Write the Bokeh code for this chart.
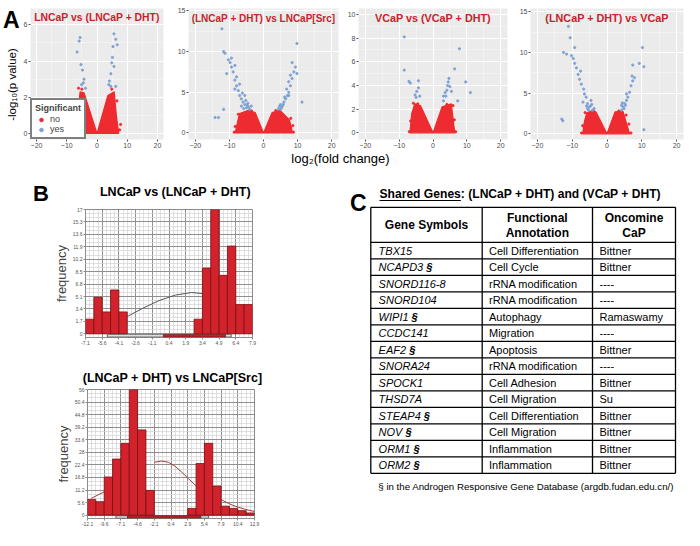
import math
from bokeh.plotting import figure
from bokeh.layouts import column, row
from bokeh.models import Range1d, FixedTicker, Label, Legend, LegendItem, CustomJSTickFormatter
from bokeh.core.properties import value
from bokeh.embed import file_html
from bokeh.resources import INLINE

FONT = "Liberation Sans"
RED_PT = "#ee2b30"
BLUE_PT = "#7ea2d4"
TITLE_RED = "#c8232b"
BAR_FILL = "#d2232c"
BAR_LINE = "#7a1014"

TOP_H = 150
STRIP_H = 32
BOT_H = 348

# ---------------- Panel A : volcano plots ----------------
v_xticks = [-20, -10, 0, 10, 20]

v1_title = "LNCaP vs (LNCaP + DHT)"
v1_yticks = [0, 2, 4, 6]
v1_env_x = [-6.6, -6.2, -5.6, -4.3, 0.0, 3.6, 5.7, 6.4, 7.2]
v1_env_y = [0.0, 1.3, 2.3, 2.25, 0.0, 2.1, 2.3, 1.0, 0.0]
v1_no_x = [-7.0, -6.9, -6.1, 7.5, 7.8, 6.6, -5.0, 4.9]
v1_no_y = [0.1, 0.7, 2.5, 0.2, 0.5, 1.8, 2.45, 2.45]
v1_yes_x = [-5.6, -5.9, -6.6, -5.3, -4.8, -4.3, -4.5, -5.1, -3.8,
            5.6, 6.2, 6.7, 5.3, 5.1, 4.9, 5.6, 4.6, 4.1, 3.9, 4.6, 6.2]
v1_yes_y = [5.3, 5.1, 4.5, 3.8, 3.5, 3.0, 2.8, 2.7, 2.5,
            5.5, 5.2, 4.9, 4.8, 4.2, 3.9, 3.7, 3.3, 2.9, 2.7, 2.6, 2.6]

v2_title = "(LNCaP + DHT) vs LNCaP[Src]"
v2_yticks = [0, 5, 10, 15]
v2_env_x = [-8.3, -7.6, -7.0, -4.5, -2.4, 0.0, 2.5, 4.8, 7.6, 8.1, 8.5]
v2_env_y = [0.0, 1.4, 2.4, 2.8, 2.5, 0.0, 2.5, 2.8, 1.6, 0.8, 0.0]
v2_no_x = [-8.6, -8.3, -7.4, 8.8, 8.6, 8.0, -3.5, 3.6]
v2_no_y = [0.1, 0.8, 2.3, 0.1, 0.9, 1.8, 2.7, 2.75]
v2_yes_x = [-4.1, -5.0, -5.5, -6.0, -4.6, -6.5, -7.0, -5.5, -7.4, -7.9, -7.0, -8.4, -7.9,
            -8.9, -9.4, -8.4, -9.8, -10.3, -9.4, -11.3, -11.7, -10.8, -8.4, -6.5, -3.6,
            -12.2, -14.2, -13.2, -11.7, -4.4, -5.2, -4.8, -6.2, -5.8,
            5.0, 5.5, 6.0, 6.5, 7.0, 7.4, 6.8, 7.9, 7.4, 8.4, 7.9, 8.9, 9.35, 8.4, 9.8,
            9.8, 7.4, 5.0, 11.3, 4.4, 4.7, 5.8, 6.2, 5.3]
v2_yes_y = [2.9, 3.1, 3.5, 3.8, 3.65, 4.2, 4.6, 4.6, 5.2, 5.8, 6.0, 6.5, 6.9,
            7.5, 8.1, 8.3, 8.65, 9.0, 9.2, 9.8, 10.0, 7.3, 5.4, 3.3, 3.3,
            12.8, 1.9, 1.9, 2.9, 3.2, 4.0, 3.4, 4.9, 3.0,
            2.9, 3.3, 3.8, 4.2, 4.6, 5.0, 5.4, 5.8, 6.3, 6.7, 7.1, 7.5, 8.1, 8.65, 7.3,
            11.0, 4.6, 3.5, 3.8, 3.0, 3.3, 3.5, 4.4, 3.1]

v3_title = "VCaP vs (VCaP + DHT)"
v3_yticks = [0, 2, 4, 6, 8, 10]
v3_env_x = [-6.8, -6.3, -5.4, -3.7, 0.0, 2.7, 5.4, 5.9, 6.4]
v3_env_y = [0.0, 1.6, 2.45, 2.3, 0.0, 2.2, 2.45, 1.3, 0.0]
v3_no_x = [-7.0, -6.6, -5.8, 6.7, 6.3, 5.9, -4.5, 4.1]
v3_no_y = [0.1, 1.0, 2.5, 0.1, 1.1, 2.3, 2.45, 2.4]
v3_yes_x = [-5.3, -4.8, -4.3, -5.0, -3.9, -6.7, -4.3,
            3.1, 3.6, 4.1, 4.3, 4.5, 5.0, 5.45, 3.8, 4.7, 3.1,
            -8.5, -8.5, -7.1, 7.8, 6.4, 9.65, 11.05, 7.3]
v3_yes_y = [3.2, 3.5, 3.8, 3.0, 3.1, 4.2, 4.4,
            3.1, 3.4, 3.6, 4.0, 4.3, 3.9, 3.5, 3.1, 4.6, 2.7,
            8.1, 5.3, 4.35, 7.1, 5.4, 4.3, 3.4, 2.7]

v4_title = "(LNCaP + DHT) vs VCaP"
v4_yticks = [0, 5, 10, 15]
v4_env_x = [-7.0, -6.5, -5.8, -4.6, -3.2, 0.0, 2.3, 4.6, 5.6, 6.5]
v4_env_y = [0.0, 1.5, 2.6, 2.75, 2.7, 0.0, 2.7, 2.75, 1.3, 0.0]
v4_no_x = [-7.3, -7.0, -6.3, 6.9, 6.3, 5.5, -3.9, 3.4]
v4_no_y = [0.1, 1.0, 2.6, 0.1, 1.2, 2.3, 2.8, 2.8]
v4_yes_x = [-4.2, -5.1, -5.6, -4.6, -6.0, -6.5, -6.7, -7.4, -7.9, -8.3, -7.6, -8.8, -9.3,
            -9.7, -10.2, -11.6, -12.5, -10.6, -11.1, -9.3, -6.9, -5.6, -3.7, -13.0, -12.7,
            -4.8, -5.3, -4.4, -5.9,
            4.2, 4.6, 5.1, 5.6, 6.0, 6.5, 6.9, 7.4, 7.9, 7.2, 5.6, 4.2, 7.4, 9.3, 10.2,
            10.6, 10.6, 4.9, 5.3, 4.4]
v4_yes_y = [2.9, 3.3, 3.7, 4.1, 4.5, 4.9, 5.5, 6.1, 6.7, 7.3, 7.7, 8.1, 8.65,
            9.25, 9.6, 9.8, 10.0, 11.8, 13.2, 10.6, 3.9, 3.1, 3.1, 1.8, 1.6,
            3.4, 2.9, 3.6, 3.4,
            2.9, 3.3, 3.7, 4.1, 4.5, 5.1, 5.9, 6.5, 6.9, 7.1, 4.9, 3.5, 8.45, 8.65, 10.6,
            8.25, 0.5, 3.1, 3.5, 3.8]

# ---------------- Panel B : histograms ----------------
h1_title = "LNCaP vs (LNCaP + DHT)"
h1_start, h1_binw = -7.1, 0.75
h1_counts = [2, 5, 3, 6, 3, 0, 0, 0, 0, 0, 0, 0, 0, 2, 9, 17, 8, 12, 4, 4]
h1_xticks = [-7.1, -5.6, -4.1, -2.6, -1.1, 0.4, 1.9, 3.4, 4.9, 6.4, 7.9]
h1_yticks = [0, 1.7, 3.4, 5.1, 6.8, 8.5, 10.2, 11.9, 13.6, 15.3, 17]
h1_curve_x = [[-4.0, -3.3, -1.95, -0.5, 0.97, 2.43, 3.45, 3.8]]
h1_curve_y = [[2.0, 2.4, 3.5, 4.55, 5.3, 5.65, 5.5, 5.4]]
h1_range_box = [-5.13, 5.99]
h1_range_red = [-0.10, 5.47]

h2_title = "(LNCaP + DHT) vs LNCaP[Src]"
h2_start, h2_binw = -12.1, 1.25
h2_counts = [7, 6, 17, 25, 32, 56, 38, 11, 0, 0, 0, 0, 3, 23, 32, 13, 4, 3, 2, 1]
h2_xticks = [-12.1, -9.6, -7.1, -4.6, -2.1, 0.4, 2.9, 5.4, 7.9, 10.4, 12.9]
h2_yticks = [0, 5.6, 11.2, 16.8, 22.4, 28, 33.6, 39.2, 44.8, 50.4, 56]
h2_curve_x = [[-11.5, -10.4, -9.3, -8.8],
              [-2.0, -1.0, 0.0, 1.0, 2.0, 3.0, 4.0, 5.0, 6.5, 8.0, 9.0, 10.0, 11.5, 12.9]]
h2_curve_y = [[7.5, 9.2, 10.8, 11.8],
              [23.6, 24.1, 23.6, 21.8, 19.2, 16.3, 13.5, 10.8, 8.0, 6.8, 5.2, 4.0, 2.6, 1.6]]
h2_range_box = [-7.86, 6.03]
h2_range_red = [-6.11, 4.86]

# ---------------- Panel C : table ----------------
c_title = "Shared Genes: (LNCaP + DHT) and (VCaP + DHT)"
c_headers = [["Gene Symbols"], ["Functional", "Annotation"], ["Oncomine", "CaP"]]
genes = ["TBX15", "NCAPD3", "SNORD116-8", "SNORD104", "WIPI1", "CCDC141", "EAF2",
         "SNORA24", "SPOCK1", "THSD7A", "STEAP4", "NOV", "ORM1", "ORM2"]
in_argdb = [False, True, False, False, True, False, True,
            False, False, False, True, True, True, True]
annotation = ["Cell Differentiation", "Cell Cycle", "rRNA modification", "rRNA modification",
              " Autophagy", " Migration", "Apoptosis", "rRNA modification", "Cell Adhesion",
              "Cell Migration", "Cell Differentiation", "Cell Migration", "Inflammation",
              "Inflammation"]
oncomine = ["Bittner", "Bittner", "----", "----", "Ramaswamy", "----", "Bittner", "----",
            "Bittner", "Su", "Bittner", "Bittner", "Bittner", "Bittner"]
footnote = "§  in the Androgen Responsive Gene Database (argdb.fudan.edu.cn/)"

# Arial / Liberation Sans advance widths (per 1000 em) for text measurement
W_REG = {'A': 667, 'B': 667, 'C': 722, 'D': 722, 'E': 667, 'F': 611, 'H': 722, 'I': 278,
         'K': 667, 'M': 833, 'N': 722, 'O': 778, 'P': 667, 'R': 722, 'S': 667, 'T': 611,
         'V': 667, 'W': 944, 'X': 667, '-': 333, ' ': 278}
W_BOLD = {'S': 667, 'h': 611, 'a': 556, 'r': 389, 'e': 556, 'd': 611, ' ': 278, 'G': 778,
          'n': 611, 's': 556}


def text_w(s, size, table):
    return sum(table.get(ch, 556) for ch in s) * size / 1000.0


def blank(width, height, flip=True):
    yr = Range1d(height, 0) if flip else Range1d(0, height)
    p = figure(width=width, height=height, x_range=Range1d(0, width), y_range=yr,
               x_axis_type=None, y_axis_type=None, output_backend="svg",
               toolbar_location=None, min_border=0, frame_align=False)
    p.outline_line_color = None
    return p


def volcano(width, bl, br, yr, yticks, title, title_y, title_size,
            env_x, env_y, no_x, no_y, yes_x, yes_y):
    p = figure(width=width, height=TOP_H, x_range=Range1d(-22, 22), y_range=Range1d(*yr),
               output_backend="svg", toolbar_location=None, frame_align=False,
               min_border_left=bl, min_border_right=br, min_border_top=8, min_border_bottom=10)
    p.background_fill_color = "#ebebeb"
    p.border_fill_color = "white"
    p.outline_line_color = None
    ymin = [(a + b) / 2 for a, b in zip(yticks[:-1], yticks[1:])]
    p.xaxis.ticker = FixedTicker(ticks=v_xticks, minor_ticks=[-15, -5, 5, 15])
    p.yaxis.ticker = FixedTicker(ticks=yticks, minor_ticks=ymin)
    for ax in p.axis:
        ax.axis_line_color = None
        ax.major_tick_line_color = "#555555"
        ax.major_tick_out = 2
        ax.major_tick_in = 0
        ax.minor_tick_out = 0
        ax.minor_tick_in = 0
        ax.major_label_text_font_size = "7px"
        ax.major_label_text_color = "#4d4d4d"
        ax.major_label_text_font = FONT
        ax.major_label_standoff = 1
    p.grid.grid_line_color = "white"
    p.grid.grid_line_width = 1
    p.grid.minor_grid_line_color = "white"
    p.grid.minor_grid_line_alpha = 0.7
    p.grid.minor_grid_line_width = 0.5
    p.patch(env_x, env_y, fill_color=RED_PT, line_color=RED_PT, line_width=1.2)
    r_no = p.scatter(no_x, no_y, size=2.2, color=RED_PT)
    r_yes = p.scatter(yes_x, yes_y, size=2.2, color=BLUE_PT)
    p.add_layout(Label(x=0, y=title_y, text=title, text_align="center", text_baseline="middle",
                       text_font=FONT, text_font_size=title_size, text_font_style="bold",
                       text_color=TITLE_RED))
    return p, r_no, r_yes


# left strip with panel letter and y-axis title
ylab = blank(20, TOP_H, flip=False)
ylab.text(x=[2.5], y=[TOP_H - 19.4], text=["A"], text_align="left", text_baseline="alphabetic",
          text_font=value(FONT), text_font_size="23px", text_font_style="bold")
ylab.text(x=[11.5], y=[TOP_H - 84], text=["-log\u2081\u2080(p value)"], angle=math.pi / 2,
          text_align="center", text_baseline="middle", text_font=value(FONT),
          text_font_size="11.5px")

v1, v1_rno, v1_ryes = volcano(154, 8, 11, (-0.33, 6.9), v1_yticks, v1_title, 6.38, "10.4px",
                              v1_env_x, v1_env_y, v1_no_x, v1_no_y, v1_yes_x, v1_yes_y)
legend = Legend(items=[LegendItem(label="no", renderers=[v1_rno]),
                       LegendItem(label="yes", renderers=[v1_ryes])],
                location="bottom_left", title="Significant")
legend.title_text_font = FONT
legend.title_text_font_style = "bold"
legend.title_text_font_size = "9px"
legend.title_standoff = 1
legend.label_text_font = FONT
legend.label_text_font_size = "9px"
legend.label_height = 9
legend.glyph_height = 9
legend.glyph_width = 12
legend.label_standoff = 3
legend.spacing = 0
legend.padding = 3
legend.margin = 0
legend.border_line_color = "black"
legend.border_line_width = 2
legend.background_fill_alpha = 1
v1.add_layout(legend)

v2, _, _ = volcano(170, 11, 6, (-0.8, 15.3), v2_yticks, v2_title, 14.13, "10px",
                   v2_env_x, v2_env_y, v2_no_x, v2_no_y, v2_yes_x, v2_yes_y)
v3, _, _ = volcano(172, 12, 9, (-0.56, 10.5), v3_yticks, v3_title, 9.7, "10.8px",
                   v3_env_x, v3_env_y, v3_no_x, v3_no_y, v3_yes_x, v3_yes_y)
v4, _, _ = volcano(168, 12, 1, (-0.7, 15.4), v4_yticks, v4_title, 14.23, "10.8px",
                   v4_env_x, v4_env_y, v4_no_x, v4_no_y, v4_yes_x, v4_yes_y)

# shared x-axis label strip
strip = blank(684, STRIP_H)
strip.text(x=[340], y=[0], text=["log\u2082(fold change)"], text_align="center",
           text_baseline="top", text_font=value(FONT), text_font_size="13px")

fmt = CustomJSTickFormatter(code="return (Math.round(tick*10)/10).toString();")


def histogram(h, bl, br, bt, bb, start, binw, counts, xticks, yticks,
              yr, curve_x, curve_y, curve_color, box, red, box_y):
    p = figure(width=344, height=h, x_range=Range1d(xticks[0], xticks[-1]),
               y_range=Range1d(*yr), output_backend="svg", toolbar_location=None,
               frame_align=False,
               min_border_left=bl, min_border_right=br, min_border_top=bt, min_border_bottom=bb)
    p.background_fill_color = "white"
    p.outline_line_color = "#8a8a8a"
    xminor = []
    for a, b in zip(xticks[:-1], xticks[1:]):
        xminor += [a + (b - a) * k / 4 for k in (1, 2, 3)]
    yminor = []
    for a, b in zip(yticks[:-1], yticks[1:]):
        yminor += [a + (b - a) * k / 3 for k in (1, 2)]
    p.xaxis.ticker = FixedTicker(ticks=xticks, minor_ticks=xminor)
    p.yaxis.ticker = FixedTicker(ticks=yticks, minor_ticks=yminor)
    for ax in p.axis:
        ax.formatter = fmt
        ax.axis_line_color = None
        ax.major_tick_line_color = "#8a8a8a"
        ax.major_tick_out = 2
        ax.major_tick_in = 0
        ax.minor_tick_out = 0
        ax.minor_tick_in = 0
        ax.major_label_text_font_size = "5px"
        ax.major_label_text_color = "#555555"
        ax.major_label_text_font = FONT
        ax.major_label_standoff = 1
    p.yaxis.axis_label = "frequency"
    p.yaxis.axis_label_text_font = FONT
    p.yaxis.axis_label_text_font_size = "13px"
    p.yaxis.axis_label_text_font_style = "normal"
    p.yaxis.axis_label_standoff = 1
    p.grid.grid_line_color = "#8f8f8f"
    p.grid.grid_line_width = 1
    p.grid.minor_grid_line_color = "#d2d2d2"
    p.grid.minor_grid_line_width = 0.7
    p.multi_line(curve_x, curve_y, line_color=curve_color, line_width=1)
    lefts = [start + binw * i for i, c in enumerate(counts) if c > 0]
    tops = [c for c in counts if c > 0]
    p.quad(left=lefts, right=[l + binw for l in lefts], bottom=0, top=tops,
           fill_color=BAR_FILL, line_color=BAR_LINE, line_width=0.8)
    p.quad(left=[box[0]], right=[box[1]], bottom=[box_y[0]], top=[box_y[1]],
           fill_color="white", line_color="#444444", line_width=0.8)
    p.quad(left=[red[0]], right=[red[1]], bottom=[box_y[0]], top=[box_y[1]],
           fill_color=BAR_FILL, line_color=BAR_LINE, line_width=0.8)
    return p


hh1 = blank(344, 25)
hh1.text(x=[32.6], y=[11.0], text=["B"], text_align="left", text_baseline="middle",
         text_font=value(FONT), text_font_size="22px", text_font_style="bold")
hh1.text(x=[175], y=[9.8], text=[h1_title], text_align="center", text_baseline="middle",
         text_font=value(FONT), text_font_size="12.5px", text_font_style="bold")
h1 = histogram(147, 85, 92, 2, 17, h1_start, h1_binw, h1_counts,
               h1_xticks, h1_yticks, (-0.5, 17), h1_curve_x, h1_curve_y, "#555555",
               h1_range_box, h1_range_red, (-0.42, -0.12))

hh2 = blank(344, 31)
hh2.text(x=[172], y=[23.7], text=[h2_title], text_align="center", text_baseline="middle",
         text_font=value(FONT), text_font_size="12.5px", text_font_style="bold")
h2 = histogram(145, 87, 90, 4, 12, h2_start, h2_binw, h2_counts,
               h2_xticks, h2_yticks, (-1.5, 56), h2_curve_x, h2_curve_y, "#a83a3a",
               h2_range_box, h2_range_red, (-1.3, -0.35))

# ---------------- table figure ----------------
tf = blank(340, BOT_H)
TL, C1, C2, TR = 26.3, 137.7, 248.0, 331.0
TTOP, HDR, RH = 24.8, 59.8, 16.5
n = len(genes)
tbot = HDR + RH * n
hy = [TTOP, HDR] + [HDR + RH * (k + 1) for k in range(n)]
tf.segment(x0=[TL] * len(hy), y0=hy, x1=[TR] * len(hy), y1=hy, line_color="black", line_width=1.3)
tf.segment(x0=[TL, C1, C2, TR], y0=[TTOP] * 4, x1=[TL, C1, C2, TR], y1=[tbot] * 4,
           line_color="black", line_width=1.3)

tf.text(x=[5.5], y=[20.3], text=["C"], text_align="left", text_baseline="alphabetic",
        text_font=value(FONT), text_font_size="23px", text_font_style="bold")
tf.text(x=[35], y=[11.2], text=[c_title], text_align="left", text_baseline="middle",
        text_font=value(FONT), text_font_size="12.1px", text_font_style="bold")
ul = text_w("Shared Genes", 12.1, W_BOLD)
tf.segment(x0=[35], y0=[18.0], x1=[35 + ul], y1=[18.0], line_color="black", line_width=1)

col_centers = [(TL + C1) / 2, (C1 + C2) / 2, (C2 + TR) / 2]
for cc, lines in zip(col_centers, c_headers):
    if len(lines) == 1:
        ys = [(TTOP + HDR) / 2 + 0.5]
    else:
        ys = [35.5, 50.4]
    tf.text(x=[cc] * len(lines), y=ys, text=lines, text_align="center", text_baseline="middle",
            text_font=value(FONT), text_font_size="12px", text_font_style="bold")

row_y = [HDR + RH * (i + 0.5) for i in range(n)]
tf.text(x=[34.1] * n, y=row_y, text=genes, text_align="left", text_baseline="middle",
        text_font=value(FONT), text_font_size="11px", text_font_style="italic")
sx = [34.1 + text_w(g + " ", 11, W_REG) for g, f in zip(genes, in_argdb) if f]
sy = [y for y, f in zip(row_y, in_argdb) if f]
tf.text(x=sx, y=sy, text=["§"] * len(sx), text_align="left", text_baseline="middle",
        text_font=value(FONT), text_font_size="11px", text_font_style="bold italic")
tf.text(x=[144.5] * n, y=row_y, text=annotation, text_align="left", text_baseline="middle",
        text_font=value(FONT), text_font_size="11px")
tf.text(x=[255.0] * n, y=row_y, text=oncomine, text_align="left", text_baseline="middle",
        text_font=value(FONT), text_font_size="11px")
tf.text(x=[33.8], y=[303.5], text=[footnote], text_align="left", text_baseline="middle",
        text_font=value(FONT), text_font_size="9.7px")

layout = column(row(ylab, v1, v2, v3, v4), strip,
                row(column(hh1, h1, hh2, h2), tf))

with open("out.html", "w") as f:
    f.write(file_html(layout, INLINE, title="figure"))
